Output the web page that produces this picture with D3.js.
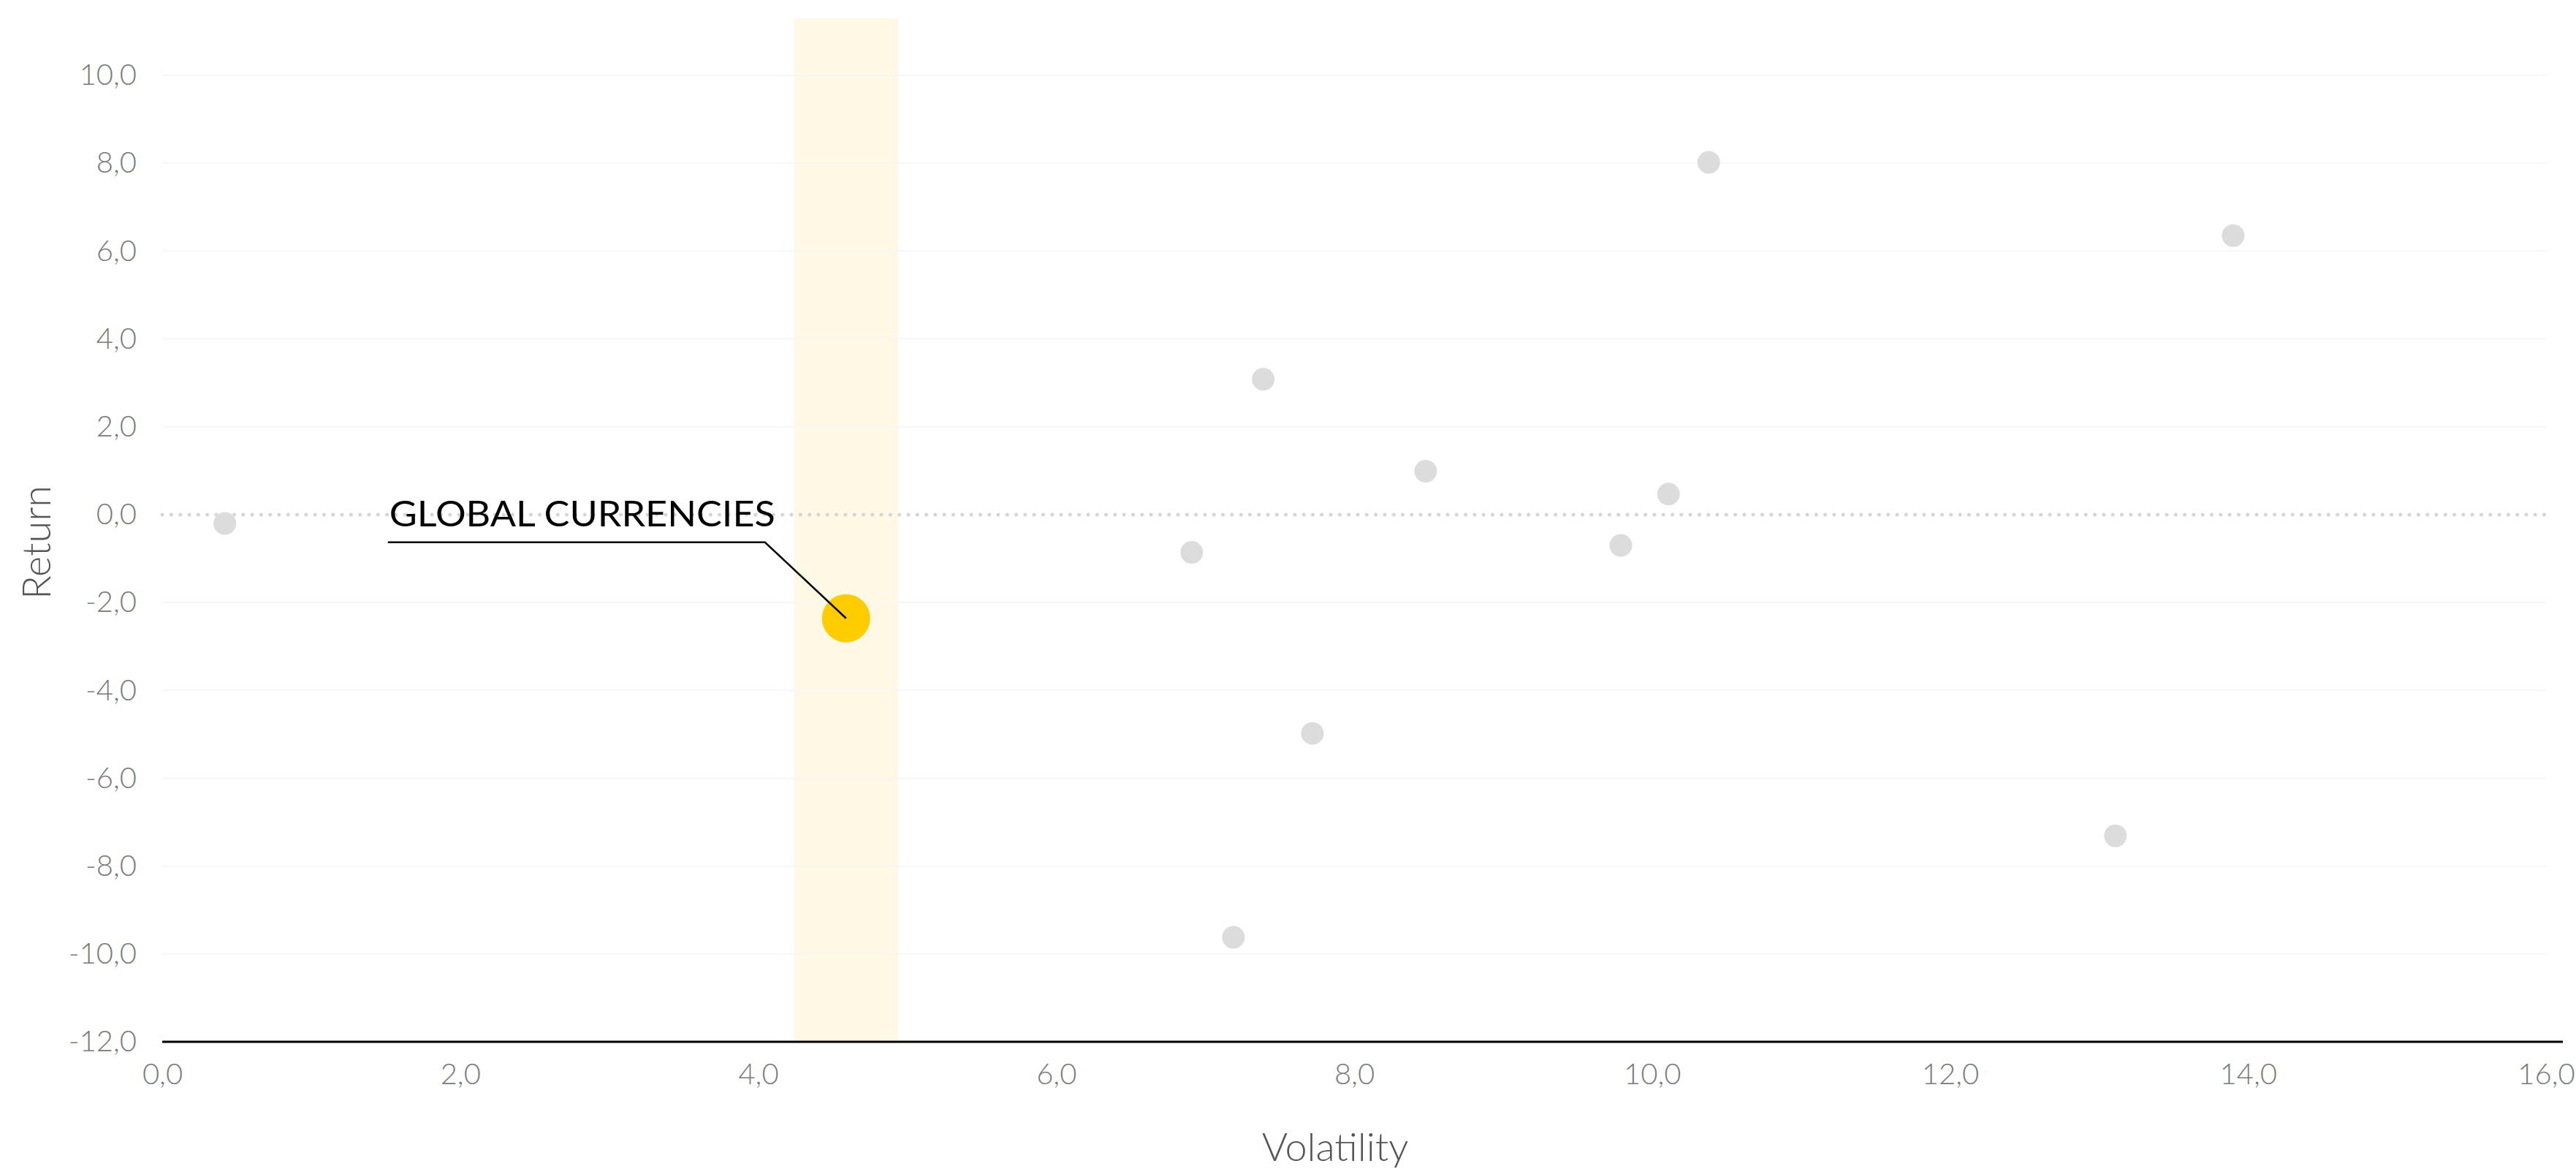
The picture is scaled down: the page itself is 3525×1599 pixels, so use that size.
<!DOCTYPE html>
<html>
<head>
<meta charset="utf-8">
<script src="https://cdn.jsdelivr.net/npm/d3@7"></script>
<style>
  html, body { margin: 0; padding: 0; background: #ffffff; }
  svg { display: block; }
  text { font-family: Lato, "Open Sans", sans-serif; }
</style>
</head>
<body>
<svg id="chart" width="3525" height="1599"></svg>
<script>
// ---- data ----
const volatility = [0.42, 6.91, 7.19, 7.39, 7.72, 8.48, 9.79, 10.11, 10.38, 13.11, 13.90];
const returns    = [-0.20, -0.86, -9.62, 3.08, -4.98, 0.99, -0.70, 0.47, 8.02, -7.31, 6.35];
const highlightName = "GLOBAL CURRENCIES";
const highlightVol = 4.59;
const highlightRet = -2.36;
const bandRange = [4.24, 4.94];
const xTicks = [0, 2, 4, 6, 8, 10, 12, 14, 16];
const yTicks = [-12, -10, -8, -6, -4, -2, 0, 2, 4, 6, 8, 10];
const xTitle = "Volatility";
const yTitle = "Return";

// ---- layout ----
const svg = d3.select("#chart");
const x = d3.scaleLinear().domain([0, 16]).range([222, 3484]);
const y = d3.scaleLinear().domain([-12, 10]).range([1425, 103]);
const plotTop = 25;
const fmt = v => d3.format(".1f")(v).replace(".", ",").replace("\u2212", "-");

// highlight band
svg.append("rect")
  .attr("x", x(bandRange[0]))
  .attr("width", x(bandRange[1]) - x(bandRange[0]))
  .attr("y", plotTop)
  .attr("height", y(-12) - plotTop)
  .attr("fill", "#fff8e5");

// horizontal gridlines
svg.append("g").selectAll("line")
  .data(yTicks.filter(d => d !== 0 && d !== -12))
  .join("line")
  .attr("x1", x(0)).attr("x2", x(16))
  .attr("y1", d => y(d)).attr("y2", d => y(d))
  .attr("stroke", "#f6f6f6").attr("stroke-width", 2);

// zero dotted line
svg.append("line")
  .attr("x1", x(0)).attr("x2", x(16))
  .attr("y1", y(0)).attr("y2", y(0))
  .attr("stroke", "#d6d6d6")
  .attr("stroke-width", 5)
  .attr("stroke-linecap", "round")
  .attr("stroke-dasharray", "0.1 12.2");

// y axis labels
const yAxis = d3.axisLeft(y).tickValues(yTicks).tickFormat(fmt).tickSize(0).tickPadding(35);
const gy = svg.append("g").attr("transform", `translate(${x(0)},0)`).call(yAxis);
gy.select(".domain").remove();
gy.selectAll("text")
  .attr("font-family", "Lato, sans-serif")
  .attr("font-size", 40).attr("font-weight", 300)
  .attr("fill", "#7a7a7a");

// x axis
const xAxis = d3.axisBottom(x).tickValues(xTicks).tickFormat(fmt).tickSize(0).tickPadding(30);
const gx = svg.append("g").attr("transform", `translate(0,${y(-12)})`).call(xAxis);
gx.select(".domain").remove();
gx.selectAll("text")
  .attr("font-family", "Lato, sans-serif")
  .attr("font-size", 40).attr("font-weight", 300)
  .attr("fill", "#7a7a7a");
svg.append("line")
  .attr("x1", x(0)).attr("x2", x(16) + 23)
  .attr("y1", y(-12)).attr("y2", y(-12))
  .attr("stroke", "#000").attr("stroke-width", 3);

// grey points
const pts = volatility.map((v, i) => ({ v, r: returns[i] }));
svg.append("g").selectAll("circle")
  .data(pts)
  .join("circle")
  .attr("cx", d => x(d.v))
  .attr("cy", d => y(d.r))
  .attr("r", 15.5)
  .attr("fill", "#dcdcdc");

// highlighted point
const hx = x(highlightVol), hy = y(highlightRet);
svg.append("circle")
  .attr("cx", hx).attr("cy", hy).attr("r", 33)
  .attr("fill", "#ffcc00");

// annotation
const elbowX = hx - 111, elbowY = hy - 104;
svg.append("path")
  .attr("d", `M${elbowX - 516},${elbowY} L${elbowX},${elbowY} L${hx},${hy}`)
  .attr("fill", "none").attr("stroke", "#000").attr("stroke-width", 2.5);
svg.append("text")
  .attr("x", elbowX - 514).attr("y", elbowY - 22)
  .attr("font-size", 48).attr("font-weight", 400)
  .attr("fill", "#000")
  .attr("textLength", 528)
  .attr("lengthAdjust", "spacingAndGlyphs")
  .text(highlightName);

// axis titles
svg.append("text")
  .attr("x", 1827).attr("y", 1588)
  .attr("text-anchor", "middle")
  .attr("font-size", 54).attr("font-weight", 300)
  .attr("fill", "#555")
  .text(xTitle);
svg.append("text")
  .attr("transform", `translate(69,742) rotate(-90)`)
  .attr("text-anchor", "middle")
  .attr("font-size", 54).attr("font-weight", 300)
  .attr("fill", "#555")
  .text(yTitle);
</script>
</body>
</html>
